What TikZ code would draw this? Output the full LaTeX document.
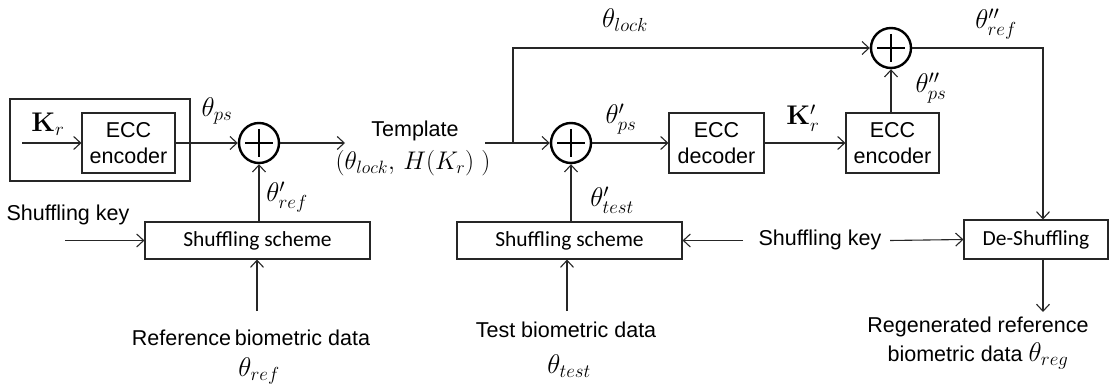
\RequirePackage{fix-cm}
\documentclass[tikz,border=0pt]{standalone}
\usepackage[no-math]{fontspec}
\setmainfont{Liberation Sans}
\newfontfamily\calibri{Carlito}
\usetikzlibrary{arrows.meta,calc}
\begin{document}
\begin{tikzpicture}[x=1pt,y=-1pt,
  ln/.style={line width=1.1pt, draw=black!85},
  arr/.style={ln, -{Straight Barb[length=7pt,width=13pt,line width=1.1pt]}},
  box/.style={draw=black!85, line width=1.1pt, inner sep=0pt, align=center, font=\fontsize{21.5}{26}\selectfont},
  sbox/.style={draw=black!85, line width=1.1pt, inner sep=0pt, font=\calibri\fontsize{21.5}{26}\selectfont},
  txt/.style={inner sep=0pt, font=\fontsize{21.5}{29}\selectfont, align=center},
  mth/.style={inner sep=0pt, font=\fontsize{27}{32}\selectfont},
  xor/.style={circle, draw=black, line width=2.4pt, minimum size=40pt, inner sep=0pt}
]
\useasboundingbox (0,0) rectangle (1113,387);

% ---------- left part ----------
\node[draw=black!85, line width=1.1pt, minimum width=180pt, minimum height=82pt, inner sep=0pt] (outer) at (100,140) {};
\node[box, minimum width=93pt, minimum height=60pt] (enc1) at (128.5,143) {ECC\\encoder};
\coordinate (kin) at (22,143);
\draw[arr] (kin) -- (enc1.west);
\node[mth] (kr) at (48,124) {$\mathbf{K}_r$};

\node[xor] (x1) at (259,143) {};
\draw[arr] (enc1.east) -- (x1.west);
\node[mth] (tps) at (217,111) {$\theta_{ps}$};

\coordinate (tplin) at (345,143);
\draw[arr] (x1.east) -- (tplin);
\node[txt] (tpl) at (415,131) {Template};
\node[mth, font=\fontsize{25.5}{30}\selectfont] (tplm) at (413,163) {$(\theta_{lock},\,H(K_r)\;)$};

\node[sbox, minimum width=225pt, minimum height=37pt] (sh1) at (257.5,240.5) {Shuffling scheme};
\draw[arr] (sh1.north -| x1) -- (x1.south);
\node[mth] (tpref) at (287,197) {$\theta'_{ref}$};

\node[txt] (sk1) at (68,215) {Shuffling key};
\coordinate (skin) at (65,240.5);
\draw[arr] (skin) -- (sh1.west);

\node[txt] (refd) at (251,338) {Reference\hspace{-0.1em} biometric data};
\node[mth] (tref) at (259,371) {$\theta_{ref}$};
\coordinate (refin) at (257,311);
\draw[arr] (refin) -- (refin |- sh1.south);

% ---------- right part ----------
\coordinate (tplout) at (485,143);
\node[xor] (x2) at (571,143) {};
\draw[arr] (tplout) -- (x2.west);
\coordinate (bend) at (513,143);
\node[xor] (x3) at (891,48) {};
\draw[arr] (bend) -- (bend |- x3) -- (x3.west);
\node[mth] (tlock) at (625,20) {$\theta_{lock}$};

\node[box, minimum width=95pt, minimum height=60pt] (dec) at (716.5,143) {ECC\\decoder};
\draw[arr] (x2.east) -- (dec.west);
\node[mth] (tpps) at (621,119) {$\theta'_{ps}$};

\node[box, minimum width=93pt, minimum height=60pt] (enc2) at (892.5,143) {ECC\\encoder};
\draw[arr] (dec.east) -- (enc2.west);
\node[mth] (krp) at (803,118) {$\mathbf{K}'_r$};
\draw[arr] (enc2.north -| x3) -- (x3.south);
\node[mth] (tppps) at (931,88) {$\theta''_{ps}$};

\node[sbox, minimum width=225pt, minimum height=37pt] (sh2) at (569.5,240.5) {Shuffling scheme};
\draw[arr] (sh2.north -| x2) -- (x2.south);
\node[mth] (tptest) at (612,200) {$\theta'_{test}$};
\node[txt] (testd) at (566,330) {Test biometric data};
\node[mth] (ttest) at (569,366) {$\theta_{test}$};
\coordinate (testin) at (567,311);
\draw[arr] (testin) -- (testin |- sh2.south);

\node[sbox, minimum width=144pt, minimum height=39pt] (desh) at (1036,239.5) {De-Shuffling};
\node[txt] (sk2) at (820,240) {Shuffling key};
\coordinate (skl) at (743,240.5);
\coordinate (skr) at (890,240.5);
\draw[arr] (skl) -- (sh2.east);
\draw[arr] (skr) -- (desh.west);

\coordinate (c3) at (1043,48);
\draw[arr] (x3.east) -- (c3) -- (c3 |- desh.north);
\node[mth] (tppref) at (996,24) {$\theta''_{ref}$};
\coordinate (regout) at (1043,312);
\draw[arr] (c3 |- desh.south) -- (regout);
\node[txt] (regd) at (978,343) {Regenerated reference\\biometric data {\fontsize{27}{32}\selectfont$\theta_{reg}$}};

% plus signs inside the XOR circles
\foreach \n in {x1,x2,x3}{
  \draw[line width=2.4pt] ($(\n)+(-14,0)$) -- ($(\n)+(14,0)$);
  \draw[line width=2.4pt] ($(\n)+(0,-14)$) -- ($(\n)+(0,14)$);
}
\end{tikzpicture}
\end{document}
